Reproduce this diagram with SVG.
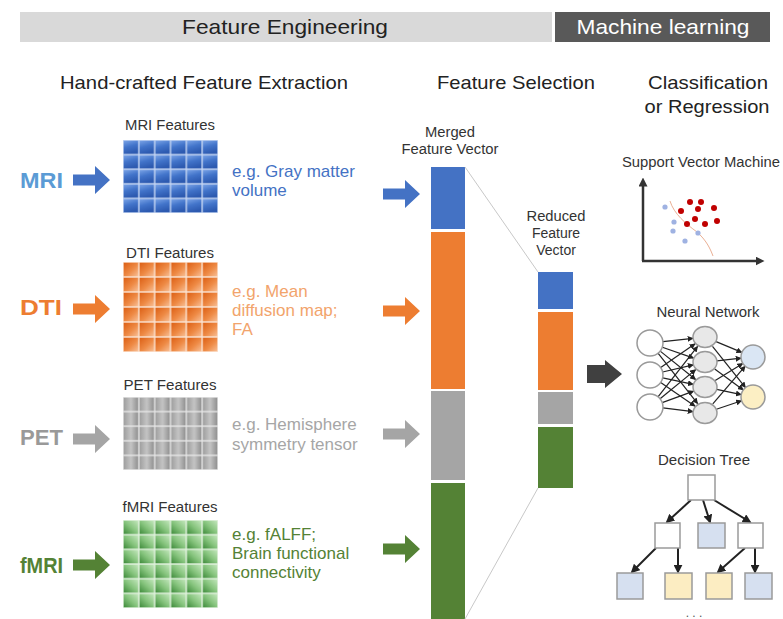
<svg xmlns="http://www.w3.org/2000/svg" width="783" height="619" viewBox="0 0 783 619">
<style>
text{font-family:"Liberation Sans",Arial,Helvetica,sans-serif}
.ttl{font-size:19px;fill:#222}
.hdr{font-size:21px}
.sm{font-size:14px;fill:#333}
.lbl{font-size:22px;font-weight:bold}
.desc{font-size:17px}
.box{stroke:#9a9a9a;stroke-width:1.5}
.nn{stroke:#222;stroke-width:1.2;fill:none;marker-end:url(#ah)}
.dt{stroke:#222;stroke-width:2;fill:none;marker-end:url(#ah2)}
.node{stroke:#9a9a9a;stroke-width:1.5}
</style>
<defs>
<marker id="ah" viewBox="0 0 10 10" refX="9" refY="5" markerWidth="6" markerHeight="6" markerUnits="userSpaceOnUse" orient="auto"><path d="M0,0 L10,5 L0,10 z" fill="#222"/></marker>
<marker id="ah2" viewBox="0 0 10 10" refX="8" refY="5" markerWidth="9" markerHeight="9" markerUnits="userSpaceOnUse" orient="auto"><path d="M0,0 L10,5 L0,10 z" fill="#222"/></marker>
<marker id="ax" viewBox="0 0 10 10" refX="5" refY="5" markerWidth="9" markerHeight="9" markerUnits="userSpaceOnUse" orient="auto"><path d="M0,0 L10,5 L0,10 z" fill="#333"/></marker>
<path id="barrow" d="M0,-5.5 H22 V-14 L37,0 L22,14 V5.5 H0 Z"/>
<linearGradient id="gm" x1="0" y1="0" x2="0.3" y2="1"><stop offset="0" stop-color="#7aa3e6"/><stop offset="0.5" stop-color="#4274ca"/><stop offset="1" stop-color="#2d5ab0"/></linearGradient>
<linearGradient id="gd" x1="0" y1="0" x2="1" y2="1"><stop offset="0" stop-color="#dc5f14"/><stop offset="0.55" stop-color="#ee8a45"/><stop offset="1" stop-color="#f8be94"/></linearGradient>
<linearGradient id="gp" x1="0" y1="0" x2="1" y2="0"><stop offset="0" stop-color="#9e9e9e"/><stop offset="0.5" stop-color="#c4c4c4"/><stop offset="1" stop-color="#909090"/></linearGradient>
<linearGradient id="gf" x1="1" y1="0" x2="0" y2="1"><stop offset="0" stop-color="#c2e6bb"/><stop offset="0.5" stop-color="#86c47d"/><stop offset="1" stop-color="#3d8a3a"/></linearGradient>
<pattern id="pm" patternUnits="userSpaceOnUse" x="123" y="140" width="15.833" height="14.6"><rect width="15.833" height="14.6" fill="#c6d6f2"/><rect x="0.7" y="0.7" width="14.43" height="13.2" fill="url(#gm)"/></pattern>
<pattern id="pd" patternUnits="userSpaceOnUse" x="123" y="262" width="15.833" height="15"><rect width="15.833" height="15" fill="#fbe3d2"/><rect x="0.7" y="0.7" width="14.43" height="13.6" fill="url(#gd)"/></pattern>
<pattern id="pp" patternUnits="userSpaceOnUse" x="123" y="397" width="15.833" height="14.6"><rect width="15.833" height="14.6" fill="#e6e6e6"/><rect x="0.7" y="0.7" width="14.43" height="13.2" fill="url(#gp)"/></pattern>
<pattern id="pf" patternUnits="userSpaceOnUse" x="123" y="520" width="15.833" height="14.667"><rect width="15.833" height="14.667" fill="#e2f2df"/><rect x="0.7" y="0.7" width="14.43" height="13.27" fill="url(#gf)"/></pattern>
</defs>
<rect width="783" height="619" fill="#fff"/>

<g id="header">
<rect x="20" y="12" width="532" height="30" fill="#d9d9d9"/>
<text class="hdr" x="285" y="34" text-anchor="middle" fill="#222" textLength="206" lengthAdjust="spacingAndGlyphs">Feature Engineering</text>
<rect x="555" y="12" width="215" height="30" fill="#595959"/>
<text class="hdr" x="663" y="34" text-anchor="middle" fill="#fff" textLength="173" lengthAdjust="spacingAndGlyphs">Machine learning</text>
</g>

<g id="section-titles">
<text class="ttl" x="204" y="89" text-anchor="middle" textLength="288" lengthAdjust="spacingAndGlyphs">Hand-crafted Feature Extraction</text>
<text class="ttl" x="516" y="89" text-anchor="middle" textLength="158" lengthAdjust="spacingAndGlyphs">Feature Selection</text>
<text class="ttl" x="708" y="89" text-anchor="middle" textLength="120" lengthAdjust="spacingAndGlyphs">Classification</text>
<text class="ttl" x="707" y="113" text-anchor="middle" textLength="125" lengthAdjust="spacingAndGlyphs">or Regression</text>
</g>

<g id="mri">
<text class="lbl" x="20" y="188" fill="#5b9bd5" textLength="43" lengthAdjust="spacingAndGlyphs">MRI</text>
<use href="#barrow" transform="translate(73,180)" fill="#4472c4"/>
<text class="sm" x="170" y="130" text-anchor="middle" textLength="90" lengthAdjust="spacingAndGlyphs">MRI Features</text>
<rect x="123" y="140" width="95" height="73" fill="url(#pm)"/>
<text class="desc" x="232" y="177" fill="#4472c4">e.g. Gray matter</text>
<text class="desc" x="232" y="196" fill="#4472c4">volume</text>
<use href="#barrow" transform="translate(383,194)" fill="#4472c4"/>
</g>

<g id="dti">
<text class="lbl" x="20" y="315" fill="#ed7d31" textLength="42" lengthAdjust="spacingAndGlyphs">DTI</text>
<use href="#barrow" transform="translate(73,309)" fill="#ed7d31"/>
<text class="sm" x="170" y="258" text-anchor="middle" textLength="88" lengthAdjust="spacingAndGlyphs">DTI Features</text>
<rect x="123" y="262" width="95" height="90" fill="url(#pd)"/>
<text class="desc" x="232" y="297" fill="#f2a46c">e.g. Mean</text>
<text class="desc" x="232" y="316" fill="#f2a46c">diffusion map;</text>
<text class="desc" x="232" y="335" fill="#f2a46c">FA</text>
<use href="#barrow" transform="translate(383,311)" fill="#ed7d31"/>
</g>

<g id="pet">
<text class="lbl" x="20" y="445" fill="#999" textLength="43" lengthAdjust="spacingAndGlyphs">PET</text>
<use href="#barrow" transform="translate(73,439)" fill="#a5a5a5"/>
<text class="sm" x="170" y="390" text-anchor="middle" textLength="93" lengthAdjust="spacingAndGlyphs">PET Features</text>
<rect x="123" y="397" width="95" height="73" fill="url(#pp)"/>
<text class="desc" x="232" y="430" fill="#a6a6a6">e.g. Hemisphere</text>
<text class="desc" x="232" y="450" fill="#a6a6a6">symmetry tensor</text>
<use href="#barrow" transform="translate(383,434)" fill="#a5a5a5"/>
</g>

<g id="fmri">
<text class="lbl" x="20" y="573" fill="#548235" textLength="43" lengthAdjust="spacingAndGlyphs">fMRI</text>
<use href="#barrow" transform="translate(73,565)" fill="#548235"/>
<text class="sm" x="170" y="512" text-anchor="middle" textLength="95" lengthAdjust="spacingAndGlyphs">fMRI Features</text>
<rect x="123" y="520" width="95" height="88" fill="url(#pf)"/>
<text class="desc" x="232" y="540" fill="#548235">e.g. fALFF;</text>
<text class="desc" x="232" y="559" fill="#548235">Brain functional</text>
<text class="desc" x="232" y="578" fill="#548235">connectivity</text>
<use href="#barrow" transform="translate(383,549)" fill="#548235"/>
</g>

<g id="merged-vector">
<text class="sm" x="450" y="137" text-anchor="middle" textLength="50" lengthAdjust="spacingAndGlyphs">Merged</text>
<text class="sm" x="450" y="154" text-anchor="middle" textLength="97" lengthAdjust="spacingAndGlyphs">Feature Vector</text>
<rect x="431" y="167" width="34" height="62" fill="#4472c4"/>
<rect x="431" y="232" width="34" height="157" fill="#ed7d31"/>
<rect x="431" y="391" width="34" height="89" fill="#a5a5a5"/>
<rect x="431" y="483" width="34" height="136" fill="#548235"/>
</g>

<g id="reduced-vector">
<text class="sm" x="556" y="221" text-anchor="middle" textLength="59" lengthAdjust="spacingAndGlyphs">Reduced</text>
<text class="sm" x="556" y="238" text-anchor="middle">Feature</text>
<text class="sm" x="556" y="255" text-anchor="middle">Vector</text>
<rect x="538" y="272" width="35" height="37" fill="#4472c4"/>
<rect x="538" y="312" width="35" height="78" fill="#ed7d31"/>
<rect x="538" y="392" width="35" height="32" fill="#a5a5a5"/>
<rect x="538" y="427" width="35" height="61" fill="#548235"/>
</g>

<g id="connectors">
<line x1="465" y1="167" x2="538" y2="272" stroke="#c8c8c8" stroke-width="1"/>
<line x1="465" y1="619" x2="538" y2="488" stroke="#c8c8c8" stroke-width="1"/>
<path d="M587,365 H605 V360 L622,374 L605,388 V383 H587 Z" fill="#404040"/>
</g>

<g id="svm">
<text class="sm" x="701" y="167" text-anchor="middle" textLength="158" lengthAdjust="spacingAndGlyphs">Support Vector Machine</text>
<line x1="643" y1="261" x2="643" y2="182" stroke="#333" stroke-width="2.5" marker-end="url(#ax)"/>
<line x1="642" y1="261" x2="760" y2="261" stroke="#333" stroke-width="2.5" marker-end="url(#ax)"/>
<path d="M670,201 C674,214 686,224 697,232 C706,240 710,248 713,256" fill="none" stroke="#eab095" stroke-width="1"/>
<g fill="#9fb2e2">
<circle cx="665" cy="207" r="2.6"/><circle cx="674" cy="222" r="2.6"/><circle cx="673" cy="231" r="2.6"/><circle cx="685" cy="241" r="2.6"/><circle cx="698" cy="233" r="2.6"/>
</g>
<g fill="#c00000">
<circle cx="690" cy="202" r="3"/><circle cx="701" cy="202" r="3"/><circle cx="681" cy="211" r="3"/><circle cx="698" cy="209" r="3"/><circle cx="714" cy="208" r="3"/><circle cx="695" cy="219" r="3"/><circle cx="687" cy="224" r="3"/><circle cx="705" cy="224" r="3"/><circle cx="717" cy="221" r="3"/>
</g>
</g>

<g id="neural-network">
<text class="sm" x="708" y="317" text-anchor="middle" textLength="103" lengthAdjust="spacingAndGlyphs">Neural Network</text>
<g class="nnedges">
<line class="nn" x1="662.9" y1="341.6" x2="693.1" y2="338.3"/>
<line class="nn" x1="662.3" y1="347.2" x2="693.7" y2="358.1"/>
<line class="nn" x1="660.2" y1="351.1" x2="695.6" y2="379.5"/>
<line class="nn" x1="658.0" y1="353.2" x2="697.6" y2="403.6"/>
<line class="nn" x1="660.7" y1="367.6" x2="695.1" y2="343.8"/>
<line class="nn" x1="662.6" y1="372.0" x2="693.3" y2="364.8"/>
<line class="nn" x1="662.7" y1="377.8" x2="693.3" y2="384.4"/>
<line class="nn" x1="660.7" y1="382.4" x2="695.1" y2="406.2"/>
<line class="nn" x1="658.0" y1="396.8" x2="697.6" y2="346.4"/>
<line class="nn" x1="660.1" y1="398.8" x2="695.7" y2="369.6"/>
<line class="nn" x1="662.2" y1="402.6" x2="693.7" y2="391.1"/>
<line class="nn" x1="662.9" y1="407.8" x2="693.1" y2="411.7"/>
<line class="nn" x1="716.1" y1="341.6" x2="741.9" y2="352.4"/>
<line class="nn" x1="712.5" y1="346.4" x2="745.5" y2="387.6"/>
<line class="nn" x1="716.9" y1="360.8" x2="741.1" y2="358.2"/>
<line class="nn" x1="714.7" y1="369.1" x2="743.3" y2="389.9"/>
<line class="nn" x1="715.2" y1="380.6" x2="742.8" y2="363.4"/>
<line class="nn" x1="716.7" y1="389.4" x2="741.3" y2="394.6"/>
<line class="nn" x1="712.8" y1="403.9" x2="745.2" y2="366.1"/>
<line class="nn" x1="716.4" y1="409.2" x2="741.6" y2="400.8"/>
</g>
<g id="nn-input" fill="#fff">
<circle class="node" cx="650" cy="343" r="13"/><circle class="node" cx="650" cy="375" r="13"/><circle class="node" cx="650" cy="407" r="13"/>
</g>
<g id="nn-hidden" fill="#e8e8e8">
<ellipse class="node" cx="705" cy="337" rx="12" ry="10.5"/><ellipse class="node" cx="705" cy="362" rx="12" ry="10.5"/><ellipse class="node" cx="705" cy="387" rx="12" ry="10.5"/><ellipse class="node" cx="705" cy="413" rx="12" ry="10.5"/>
</g>
<g id="nn-output">
<circle class="node" cx="753" cy="357" r="12" fill="#dae6f4"/><circle class="node" cx="753" cy="397" r="12" fill="#fcefc4"/>
</g>
</g>

<g id="decision-tree">
<text class="sm" x="704" y="465" text-anchor="middle" textLength="92" lengthAdjust="spacingAndGlyphs">Decision Tree</text>
<line class="dt" x1="691" y1="500" x2="667" y2="522"/>
<line class="dt" x1="703" y1="500" x2="710" y2="522"/>
<line class="dt" x1="714" y1="500" x2="750" y2="522"/>
<line class="dt" x1="656" y1="548" x2="632" y2="572"/>
<line class="dt" x1="678" y1="548" x2="678" y2="572"/>
<line class="dt" x1="745" y1="548" x2="718" y2="572"/>
<line class="dt" x1="755" y1="548" x2="755" y2="572"/>
<rect class="box" x="688" y="475" width="27" height="25" fill="#fff"/>
<rect class="box" x="655" y="523" width="25" height="25" fill="#fff"/>
<rect class="box" x="698" y="523" width="27" height="25" fill="#d6e0f0"/>
<rect class="box" x="738" y="523" width="25" height="25" fill="#fff"/>
<rect class="box" x="617" y="573" width="26" height="26" fill="#d6e0f0"/>
<rect class="box" x="665" y="573" width="27" height="26" fill="#fcedc2"/>
<rect class="box" x="706" y="573" width="26" height="26" fill="#fcedc2"/>
<rect class="box" x="745" y="573" width="27" height="26" fill="#d6e0f0"/>
<text x="694" y="617" text-anchor="middle" font-size="12" fill="#555">. . .</text>
</g>
</svg>
